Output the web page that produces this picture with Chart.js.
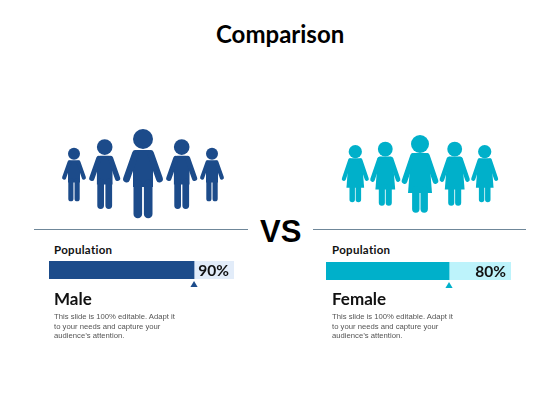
<!DOCTYPE html>
<html><head><meta charset="utf-8">
<style>
html,body{margin:0;padding:0;background:#fff;width:560px;height:420px;overflow:hidden}
.t{position:absolute;white-space:nowrap;line-height:1;color:#111}
.h{font-family:Lato,sans-serif;font-weight:700}
.d{font-family:"Liberation Sans",sans-serif;font-size:7.7px;line-height:9.6px;color:#555}
.rule{position:absolute;height:1px;background:#6f8799;top:229px}
canvas{position:absolute}
svg{position:absolute;left:0;top:0}
</style></head><body>
<svg width="560" height="420">
<defs>
<g id="man">
<circle cx="0" cy="10" r="10"/>
<path d="M-6,21H6Q9,21 10,24L10,58H-10L-10,24Q-9,21 -6,21Z"/>
<path d="M-7.5,24.5L-16.5,50M7.5,24.5L16.5,50" stroke-width="6.8" stroke-linecap="round" fill="none"/>
<path d="M-5.2,55V85M5.2,55V85" stroke-width="8.6" stroke-linecap="round" fill="none"/>
</g>
<g id="woman">
<circle cx="0" cy="9" r="9"/>
<path d="M-6,18H6Q8,18 9,20L12,58H-12L-9,20Q-8,18 -6,18Z"/>
<path d="M-7,21L-15.5,46M7,21L15.5,46" stroke-width="5.6" stroke-linecap="round" fill="none"/>
<path d="M-4.2,55V74M4.2,55V74" stroke-width="7.4" stroke-linecap="round" fill="none"/>
</g>
</defs>
<g fill="#1c4b8a" stroke="#1c4b8a" stroke-width="0">
<use href="#man" transform="translate(74,147.7) scale(.6)" stroke="#1c4b8a"/>
<use href="#man" transform="translate(104.7,139.3) scale(.78)" stroke="#1c4b8a"/>
<use href="#man" transform="translate(143,129)" stroke="#1c4b8a"/>
<use href="#man" transform="translate(181.7,139.3) scale(.78)" stroke="#1c4b8a"/>
<use href="#man" transform="translate(212,147.7) scale(.6)" stroke="#1c4b8a"/>
</g>
<g fill="#00b0ca" stroke="#00b0ca" stroke-width="0">
<use href="#woman" transform="translate(355.3,145) scale(.737)" stroke="#00b0ca"/>
<use href="#woman" transform="translate(385.3,141.7) scale(.824)" stroke="#00b0ca"/>
<use href="#woman" transform="translate(420,135)" stroke="#00b0ca"/>
<use href="#woman" transform="translate(454.7,141.7) scale(.824)" stroke="#00b0ca"/>
<use href="#woman" transform="translate(484.7,145) scale(.737)" stroke="#00b0ca"/>
</g>
</svg>

<div class="t h" style="left:216px;top:22px;font-size:24px;color:#000">Comparison</div>
<div class="rule" style="left:34px;width:214px"></div>
<div class="rule" style="left:313px;width:213px"></div>
<div class="t" style="left:260px;top:214px;font:700 31px 'Liberation Sans',sans-serif;color:#000">VS</div>

<div class="t h" style="left:54px;top:244px;font-size:11.5px;letter-spacing:.3px">Population</div>
<div class="t h" style="left:332px;top:244px;font-size:11.5px;letter-spacing:.3px">Population</div>

<canvas id="maleBar" style="left:49px;top:261px"></canvas>
<canvas id="femaleBar" style="left:326px;top:262px"></canvas>

<div class="t h" style="left:54px;top:290px;font-size:17px">Male</div>
<div class="t h" style="left:332px;top:290px;font-size:17px">Female</div>
<div class="t d" style="left:54px;top:312px">This slide is 100% editable. Adapt it<br>to your needs and capture your<br>audience’s attention.</div>
<div class="t d" style="left:332px;top:312px">This slide is 100% editable. Adapt it<br>to your needs and capture your<br>audience’s attention.</div>

<script src="https://cdn.jsdelivr.net/npm/chart.js@4"></script>
<script>
const categories = ["Population"];
const maleValues = [90];
const femaleValues = [80];

const progressPlugin = {
  id: "progress",
  beforeDatasetsDraw(chart, args, opts) {
    const a = chart.chartArea, c = chart.ctx;
    c.save();
    c.fillStyle = opts.track;
    c.fillRect(a.left, a.top, a.right - a.left, a.bottom - a.top);
    c.restore();
  },
  afterDatasetsDraw(chart, args, opts) {
    const a = chart.chartArea, c = chart.ctx;
    const v = chart.data.datasets[0].data[0];
    const x = chart.scales.x.getPixelForValue(v);
    c.save();
    c.fillStyle = opts.color;
    c.beginPath();
    c.moveTo(x, a.bottom + 2);
    c.lineTo(x + 3.6, a.bottom + 8);
    c.lineTo(x - 3.6, a.bottom + 8);
    c.closePath();
    c.fill();
    c.fillStyle = "#111";
    c.font = "700 15.5px Lato, sans-serif";
    c.textAlign = "right";
    c.textBaseline = "middle";
    c.fillText(v + "%", a.right - 5, (a.top + a.bottom) / 2 + 0.5);
    c.restore();
  }
};

function progressBar(id, values, color, track, axisMax) {
  return new Chart(document.getElementById(id), {
    type: "bar",
    data: { labels: categories, datasets: [{ label: "Population", data: values, backgroundColor: color,
      barPercentage: 1, categoryPercentage: 1, borderWidth: 0 }] },
    options: {
      indexAxis: "y", responsive: false, animation: false,
      layout: { padding: { bottom: 10 } },
      scales: {
        x: { display: false, min: 0, max: axisMax },
        y: { display: false }
      },
      plugins: { legend: { display: false }, tooltip: { enabled: false },
        progress: { track, color } }
    },
    plugins: [progressPlugin]
  });
}
function size(id, w, h) { const e = document.getElementById(id); e.width = w; e.height = h; e.style.width = w + "px"; e.style.height = h + "px"; }
size("maleBar", 185, 28);
size("femaleBar", 185, 28);
progressBar("maleBar", maleValues, "#1c4b8a", "#e2ecf9", 114.8);
progressBar("femaleBar", femaleValues, "#00b0ca", "#bdf3fb", 120.3);
</script>
</body></html>
